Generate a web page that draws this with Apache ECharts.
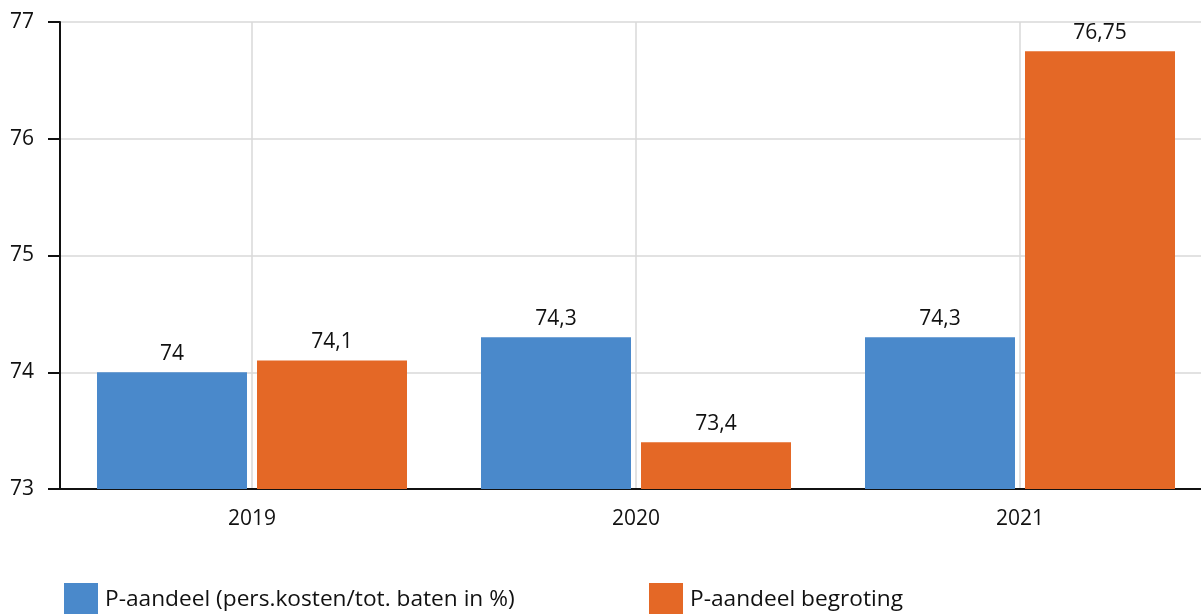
<!DOCTYPE html>
<html>
<head>
<meta charset="utf-8">
<script src="https://cdn.jsdelivr.net/npm/echarts@6/dist/echarts.min.js"></script>
<style>
html,body{margin:0;padding:0;background:#fff;overflow:hidden;width:1201px;height:614px;}
#chart{width:1212px;height:614px;}
</style>
</head>
<body>
<div id="chart"></div>
<script>
const categories = ['2019', '2020', '2021'];
const seriesNames = ['P-aandeel (pers.kosten/tot. baten in %)', 'P-aandeel begroting'];
const actualValues = [74, 74.3, 74.3];
const budgetValues = [74.1, 73.4, 76.75];
const yTicks = [73, 74, 75, 76, 77];

const colors = ['#4A89CB', '#E46826'];
const font = 'Open Sans';
const fmt = v => String(v).replace('.', ',');

const chart = echarts.init(document.getElementById('chart'));
// helper axis: 7 evenly spaced points so that odd indices fall at band centres
const helperCats = ['a','b','c','d','e','f','g'];

chart.setOption({
  animation: false,
  backgroundColor: '#fff',
  color: colors,
  grid: { left: 60, right: 0, top: 22, bottom: 125, containLabel: false },
  legend: [
    { data: [seriesNames[0]], left: 64, top: 583, padding: 0, itemWidth: 34, itemHeight: 34, icon: 'rect',
      textStyle: { fontFamily: font, fontSize: 22.7, color: '#111', padding: [0, 0, 0, 2] } },
    { data: [seriesNames[1]], left: 649, top: 583, padding: 0, itemWidth: 34, itemHeight: 34, icon: 'rect',
      textStyle: { fontFamily: font, fontSize: 22.7, color: '#111', padding: [0, 0, 0, 2] } }
  ],
  xAxis: [
    {
      type: 'category', data: categories, position: 'bottom',
      axisLine: { lineStyle: { color: '#111', width: 2 } },
      axisTick: { alignWithLabel: true, length: 10, lineStyle: { color: '#111', width: 2 } },
      axisLabel: { fontFamily: font, fontSize: 21, color: '#111', margin: 20 },
      splitLine: { show: false }
    },
    {
      type: 'category', data: helperCats, boundaryGap: false, position: 'bottom',
      axisLine: { show: false }, axisTick: { show: false }, axisLabel: { show: false },
      splitLine: { show: true, interval: (i) => i % 2 === 1, lineStyle: { color: '#d9d9d9', width: 1.5 } }
    }
  ],
  yAxis: {
    type: 'value', min: yTicks[0], max: yTicks[yTicks.length - 1], interval: 1,
    axisLine: { show: true, lineStyle: { color: '#111', width: 2 } },
    axisTick: { show: true, length: 12, lineStyle: { color: '#111', width: 2 } },
    axisLabel: { fontFamily: font, fontSize: 21, color: '#111', margin: 26 },
    splitLine: { show: true, lineStyle: { color: '#d9d9d9', width: 1.5 } }
  },
  series: [
    {
      name: seriesNames[0], type: 'bar', data: actualValues, xAxisIndex: 0,
      barWidth: 150, barGap: '6.67%',
      itemStyle: { color: colors[0] },
      label: { show: true, position: 'top', distance: 8, formatter: p => fmt(p.value),
        fontFamily: font, fontSize: 21, color: '#111' }
    },
    {
      name: seriesNames[1], type: 'bar', data: budgetValues, xAxisIndex: 0,
      barWidth: 150, barGap: '6.67%',
      itemStyle: { color: colors[1] },
      label: { show: true, position: 'top', distance: 8, formatter: p => fmt(p.value),
        fontFamily: font, fontSize: 21, color: '#111' }
    }
  ]
});
</script>
</body>
</html>
